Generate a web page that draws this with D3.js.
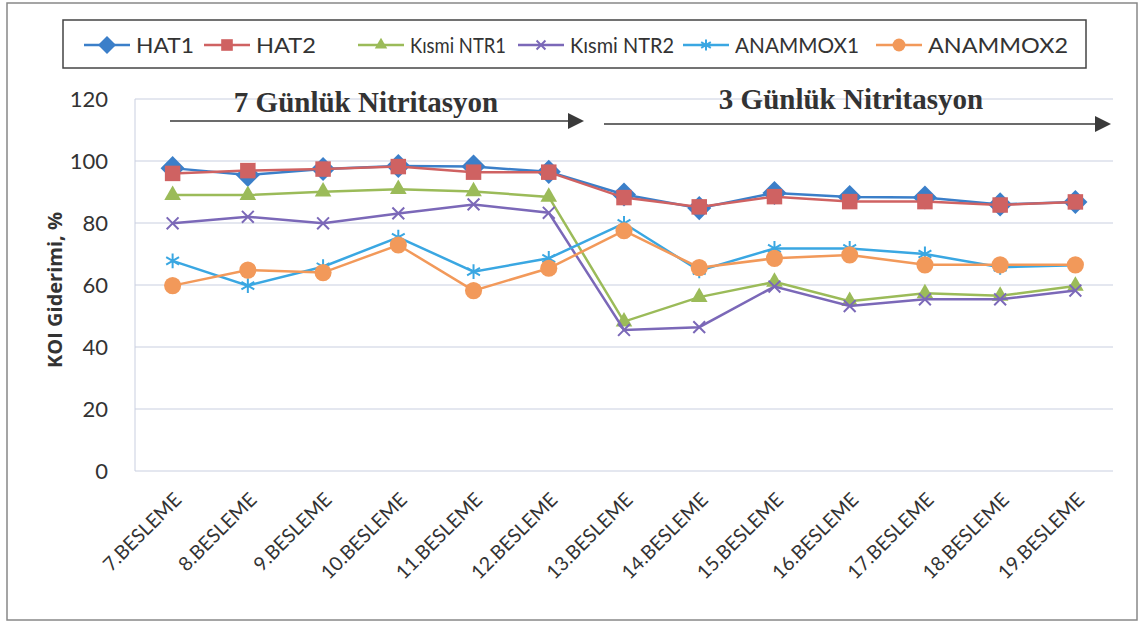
<!DOCTYPE html>
<html>
<head>
<meta charset="utf-8">
<script src="https://cdn.jsdelivr.net/npm/d3@7"></script>
<style>
  body { margin: 0; background: #fff; }
  svg { display: block; }
</style>
</head>
<body>
<div id="content"></div>
<script>
// data
var categories = ['7.BESLEME', '8.BESLEME', '9.BESLEME', '10.BESLEME', '11.BESLEME', '12.BESLEME',
  '13.BESLEME', '14.BESLEME', '15.BESLEME', '16.BESLEME', '17.BESLEME', '18.BESLEME', '19.BESLEME'];
var hat1 = [97.7, 95.5, 97.4, 98.4, 98.2, 96.5, 89.2, 84.8, 89.7, 88.4, 88.2, 86.0, 86.8];
var hat2 = [96.0, 96.9, 97.4, 98.2, 96.4, 96.4, 88.2, 85.2, 88.5, 86.9, 86.9, 85.8, 86.8];
var ntr1 = [89.0, 89.0, 90.1, 90.9, 90.2, 88.4, 48.2, 56.1, 61.0, 54.8, 57.3, 56.5, 59.7];
var ntr2 = [79.9, 82.0, 79.9, 83.1, 86.0, 83.3, 45.5, 46.4, 59.5, 53.2, 55.4, 55.4, 58.2];
var anammox1 = [67.8, 59.8, 65.9, 75.4, 64.3, 68.6, 79.9, 64.6, 71.8, 71.8, 70.0, 65.7, 66.4];
var anammox2 = [59.8, 64.8, 64.0, 72.9, 58.2, 65.4, 77.5, 65.6, 68.6, 69.7, 66.5, 66.5, 66.5];
var yTicks = [0, 20, 40, 60, 80, 100, 120];

var series = [
  { name: 'HAT1', values: hat1, color: '#3b7fc9', shape: 'diamond' },
  { name: 'HAT2', values: hat2, color: '#cf6262', shape: 'square' },
  { name: 'Kısmi NTR1', values: ntr1, color: '#9bbb59', shape: 'triangle' },
  { name: 'Kısmi NTR2', values: ntr2, color: '#7b68b8', shape: 'x' },
  { name: 'ANAMMOX1', values: anammox1, color: '#3aa7e2', shape: 'star' },
  { name: 'ANAMMOX2', values: anammox2, color: '#f2995a', shape: 'circle' }
];

var width = 1141, height = 623;
var margin = { left: 135, right: 28, top: 99, bottom: 152 };

var svg = d3.select('#content').append('svg')
  .attr('width', width)
  .attr('height', height);

// outer frame
svg.append('rect')
  .attr('x', 7).attr('y', 3)
  .attr('width', 1130).attr('height', 617)
  .attr('fill', '#fff')
  .attr('stroke', '#888').attr('stroke-width', 1.5);

var x = d3.scaleBand()
  .domain(categories)
  .range([margin.left, width - margin.right]);

var y = d3.scaleLinear()
  .domain([0, 120])
  .range([height - margin.bottom, margin.top]);

// gridlines
svg.append('g')
  .selectAll('line')
  .data(yTicks)
  .enter().append('line')
  .attr('x1', margin.left).attr('x2', width - margin.right)
  .attr('y1', d => y(d)).attr('y2', d => y(d))
  .attr('stroke', '#c9cfe0').attr('stroke-width', 1);

// left axis line
svg.append('line')
  .attr('x1', margin.left).attr('x2', margin.left)
  .attr('y1', y(120)).attr('y2', y(0))
  .attr('stroke', '#c9cfe0');

// y axis
var yAxis = svg.append('g')
  .attr('transform', 'translate(' + margin.left + ',0)')
  .call(d3.axisLeft(y).tickValues(yTicks).tickSize(0).tickPadding(27));
yAxis.select('.domain').remove();
yAxis.selectAll('text')
  .style('font-family', 'Lato, "Open Sans", sans-serif')
  .style('font-size', '22px')
  .style('fill', '#333');

// x axis
var xAxis = svg.append('g')
  .attr('transform', 'translate(0,' + y(0) + ')')
  .call(d3.axisBottom(x).tickSize(0).tickPadding(0));
xAxis.select('.domain').remove();
xAxis.selectAll('text')
  .style('font-family', 'Lato, "Open Sans", sans-serif')
  .style('font-size', '19.5px')
  .style('fill', '#333')
  .attr('text-anchor', 'end')
  .attr('dy', 0)
  .attr('transform', 'translate(10,30) rotate(-45)');

// y title
svg.append('text')
  .attr('transform', 'translate(62,' + ((y(0) + y(120)) / 2 + 5) + ') rotate(-90)')
  .attr('text-anchor', 'middle')
  .style('font-family', '"Open Sans", Lato, sans-serif')
  .style('font-size', '20px')
  .style('font-weight', 'bold')
  .style('fill', '#333')
  .text('KOI Giderimi, %');

// marker symbols
var star6 = {
  draw: function(ctx, size) {
    var r = Math.sqrt(size) / 2;
    for (var i = 0; i < 3; i++) {
      var a = Math.PI / 2 + i * Math.PI / 3;
      ctx.moveTo(r * Math.cos(a), r * Math.sin(a));
      ctx.lineTo(-r * Math.cos(a), -r * Math.sin(a));
    }
  }
};
var cross = {
  draw: function(ctx, size) {
    var r = Math.sqrt(size) / 2;
    ctx.moveTo(-r, -r); ctx.lineTo(r, r);
    ctx.moveTo(-r, r); ctx.lineTo(r, -r);
  }
};

function markerPath(shape, scale) {
  var k = scale || 1;
  if (shape === 'diamond') return d3.symbol().type(d3.symbolSquare).size(290 * k * k)();
  if (shape === 'square') return d3.symbol().type(d3.symbolSquare).size(240 * k * k)();
  if (shape === 'triangle') return d3.symbol().type(d3.symbolTriangle).size(120 * k * k)();
  if (shape === 'circle') return d3.symbol().type(d3.symbolCircle).size(230 * k * k)();
  if (shape === 'x') return d3.symbol().type(cross).size(140 * k * k)();
  return d3.symbol().type(star6).size(220 * k * k)();
}

function drawMarker(g, s, cx, cy, scale) {
  var p = g.append('path')
    .attr('d', markerPath(s.shape, scale))
    .attr('transform', 'translate(' + cx + ',' + cy + ')' + (s.shape === 'diamond' ? ' rotate(45)' : ''));
  if (s.shape === 'x' || s.shape === 'star') {
    p.attr('fill', 'none').attr('stroke', s.color).attr('stroke-width', 2);
  } else {
    p.attr('fill', s.color).attr('stroke', 'none');
  }
}

var line = d3.line()
  .x(function(d, i) { return x(categories[i]) + x.bandwidth() / 2; })
  .y(function(d) { return y(d); });

series.forEach(function(s) {
  var g = svg.append('g');
  g.append('path')
    .datum(s.values)
    .attr('d', line)
    .attr('fill', 'none')
    .attr('stroke', s.color)
    .attr('stroke-width', 2.5);
  s.values.forEach(function(v, i) {
    drawMarker(g, s, x(categories[i]) + x.bandwidth() / 2, y(v));
  });
});

// annotation text + arrows
var annotations = [
  { text: '7 Günlük Nitritasyon', tx: 366, ty: 112, x1: 170, x2: 584, ay: 121 },
  { text: '3 Günlük Nitritasyon', tx: 851, ty: 109, x1: 604, x2: 1111, ay: 124 }
];
annotations.forEach(function(a) {
  svg.append('text')
    .attr('x', a.tx).attr('y', a.ty)
    .attr('text-anchor', 'middle')
    .style('font-family', '"Liberation Serif", "DejaVu Serif", serif')
    .style('font-size', '29px')
    .style('font-weight', 'bold')
    .style('fill', '#333')
    .text(a.text);
  svg.append('line')
    .attr('x1', a.x1).attr('x2', a.x2 - 14)
    .attr('y1', a.ay).attr('y2', a.ay)
    .attr('stroke', '#3a3a3a').attr('stroke-width', 1.5);
  svg.append('path')
    .attr('d', 'M' + (a.x2 - 16) + ',' + (a.ay - 8) + ' L' + a.x2 + ',' + a.ay + ' L' + (a.x2 - 16) + ',' + (a.ay + 8) + ' Z')
    .attr('fill', '#3a3a3a');
});

// legend
var legend = svg.append('g');
legend.append('rect')
  .attr('x', 63).attr('y', 20)
  .attr('width', 1023).attr('height', 48)
  .attr('fill', '#fff')
  .attr('stroke', '#444').attr('stroke-width', 1.5);

var legendX = [84, 204, 358, 518, 683, 876];
// text widths (px) as measured in the reference legend
var legendW = [58, 60, 96, 104, 124, 140];
series.forEach(function(s, i) {
  var lx = legendX[i], ly = 45;
  legend.append('line')
    .attr('x1', lx).attr('x2', lx + 46)
    .attr('y1', ly).attr('y2', ly)
    .attr('stroke', s.color).attr('stroke-width', 2.5);
  drawMarker(legend, s, lx + 23, ly, 0.75);
  legend.append('text')
    .attr('x', lx + 52).attr('y', ly + 8)
    .attr('textLength', legendW[i])
    .attr('lengthAdjust', 'spacingAndGlyphs')
    .style('font-family', 'Lato, "Open Sans", sans-serif')
    .style('font-size', '22px')
    .style('fill', '#333')
    .text(s.name);
});
</script>
</body>
</html>
